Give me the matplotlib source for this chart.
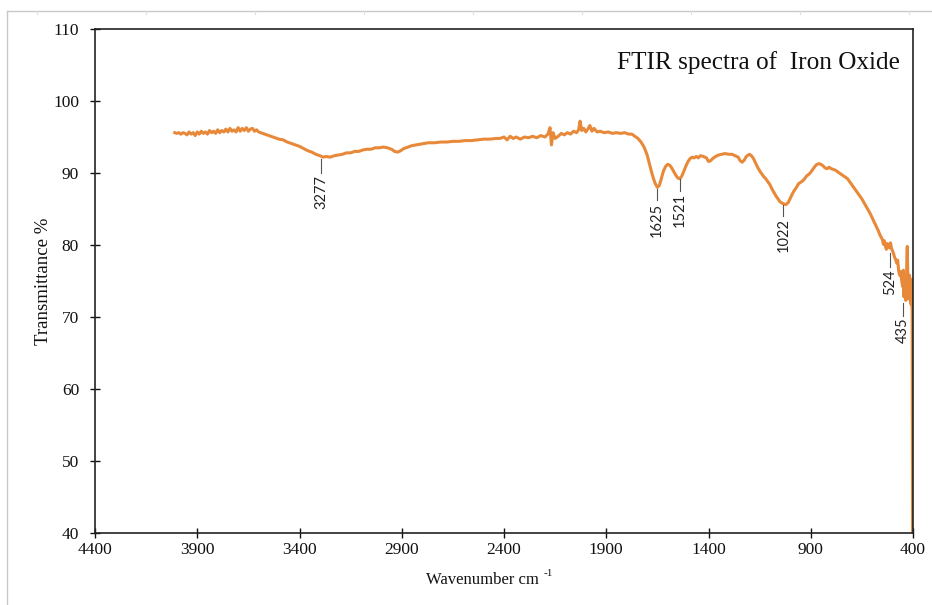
import matplotlib
matplotlib.use("Agg")
import matplotlib.pyplot as plt
from matplotlib.lines import Line2D

plt.rcParams['font.family'] = ['Liberation Serif', 'DejaVu Serif']

# ---- data ----
wavenumber = [
    # 4010-3600
    4010, 4000, 3990, 3980, 3970, 3960, 3950, 3940, 3930, 3920, 3910, 3900, 3890, 3880,
    3870, 3860, 3850, 3840, 3830, 3820, 3810, 3800, 3790, 3780, 3770, 3760, 3750, 3740,
    3730, 3720, 3710, 3700, 3690, 3680, 3670, 3660, 3650, 3640, 3630, 3620, 3610, 3600,
    # 3580-2400
    3580, 3560, 3540, 3520, 3500, 3480, 3460, 3440, 3420, 3400, 3380, 3360, 3340, 3320,
    3300, 3285, 3270, 3250, 3230, 3210, 3190, 3170, 3150, 3130, 3110, 3090, 3070, 3050,
    3030, 3010, 2990, 2970, 2950, 2935, 2920, 2905, 2890, 2870, 2850, 2830, 2810, 2790,
    2770, 2740, 2710, 2680, 2650, 2620, 2590, 2560, 2530, 2500, 2470, 2440, 2420, 2400,
    # 2385-1775
    2385, 2370, 2355, 2340, 2320, 2300, 2280, 2260, 2240, 2220, 2200, 2185, 2175, 2168,
    2160, 2150, 2135, 2120, 2105, 2090, 2075, 2060, 2045, 2035, 2028, 2020, 2010, 2000,
    1990, 1980, 1970, 1960, 1945, 1930, 1910, 1890, 1870, 1850, 1830, 1810, 1790, 1775,
    # 1760-820
    1760, 1745, 1730, 1715, 1700, 1690, 1680, 1670, 1660, 1650, 1640, 1630, 1620, 1610,
    1600, 1590, 1580, 1570, 1560, 1550, 1540, 1530, 1520, 1510, 1500, 1490, 1480, 1470,
    1460, 1450, 1440, 1425, 1410, 1400, 1390, 1380, 1365, 1350, 1335, 1320, 1300, 1285,
    1270, 1255, 1245, 1235, 1225, 1215, 1200, 1190, 1180, 1170, 1160, 1150, 1140, 1130,
    1120, 1110, 1100, 1090, 1080, 1070, 1060, 1050, 1040, 1030, 1022, 1010, 1000, 990,
    980, 970, 960, 950, 940, 930, 920, 910, 900, 890, 880, 870, 860, 850,
    840, 830, 820,
    # 810-402
    810, 800, 790, 780, 770, 760, 750, 740, 730, 720, 710, 700, 690, 680,
    670, 660, 650, 640, 630, 620, 610, 600, 590, 580, 570, 560, 550, 545,
    540, 535, 530, 525, 520, 515, 510, 505, 500, 495, 490, 485, 480, 475,
    470, 465, 460, 455, 450, 447, 444, 441, 438, 435, 432, 430, 428, 426,
    423, 420, 417, 414, 411, 408, 406, 404, 403, 402,
]
transmittance = [
    # 4010-3600
    95.6, 95.5, 95.6, 95.4, 95.6, 95.5, 95.3, 95.7, 95.4, 95.6, 95.2, 95.7, 95.4, 95.8,
    95.5, 95.7, 95.4, 95.9, 95.6, 95.8, 95.5, 96.0, 95.6, 95.9, 95.7, 96.1, 95.7, 96.2,
    95.8, 96.0, 95.7, 96.3, 95.8, 96.2, 95.9, 96.3, 95.8, 96.1, 96.2, 95.8, 96.0, 95.7,
    # 3580-2400
    95.5, 95.3, 95.1, 94.9, 94.7, 94.6, 94.3, 94.1, 93.9, 93.7, 93.4, 93.1, 92.9, 92.6,
    92.4, 92.2, 92.3, 92.2, 92.4, 92.5, 92.6, 92.8, 92.8, 93.0, 93.0, 93.2, 93.3, 93.3,
    93.5, 93.5, 93.6, 93.5, 93.3, 93.0, 92.9, 93.1, 93.4, 93.6, 93.8, 93.9, 94.0, 94.1,
    94.2, 94.2, 94.3, 94.3, 94.4, 94.4, 94.5, 94.5, 94.6, 94.7, 94.7, 94.8, 94.8, 95.0,
    # 2385-1775
    94.6, 95.1, 94.8, 95.0, 94.7, 95.0, 94.9, 95.1, 94.9, 95.2, 95.0, 95.4, 96.3, 93.9,
    95.6, 94.8, 95.1, 95.5, 95.3, 95.6, 95.4, 95.8, 95.6, 96.0, 97.2, 95.9, 96.2, 95.7,
    96.1, 96.6, 95.8, 96.2, 95.7, 95.8, 95.6, 95.7, 95.5, 95.6, 95.5, 95.6, 95.4, 95.4,
    # 1760-820
    95.1, 94.8, 94.3, 93.6, 92.5, 91.4, 90.3, 89.3, 88.5, 88.0, 88.3, 89.3, 90.3, 90.9,
    91.2, 91.1, 90.7, 90.2, 89.7, 89.3, 89.2, 89.6, 90.3, 91.0, 91.6, 92.0, 92.2, 92.1,
    92.3, 92.1, 92.4, 92.3, 92.1, 91.6, 91.7, 92.0, 92.3, 92.5, 92.6, 92.7, 92.6, 92.6,
    92.4, 92.2, 91.7, 91.5, 91.8, 92.3, 92.6, 92.4, 92.0, 91.4, 90.8, 90.3, 89.9, 89.5,
    89.2, 88.8, 88.4, 87.8, 87.3, 86.8, 86.4, 86.0, 85.8, 85.7, 85.6, 85.9, 86.5, 87.1,
    87.6, 88.0, 88.5, 88.7, 88.9, 89.2, 89.6, 89.8, 90.1, 90.5, 90.9, 91.2, 91.3, 91.2,
    91.0, 90.7, 90.6,
    # 810-402
    90.8, 90.6, 90.5, 90.4, 90.2, 90.0, 89.8, 89.6, 89.4, 89.2, 88.8, 88.4, 88.0, 87.6,
    87.2, 86.8, 86.4, 85.9, 85.4, 84.9, 84.4, 83.8, 83.2, 82.6, 82.0, 81.3, 80.8, 80.1,
    80.6, 79.8, 79.4, 80.2, 79.9, 79.6, 80.3, 79.5, 79.2, 78.8, 78.3, 78.0, 77.5, 77.9,
    76.4, 75.8, 76.3, 75.0, 74.2, 76.5, 72.8, 75.4, 73.1, 72.3, 74.8, 78.0, 79.8, 76.5,
    74.0, 72.5, 75.8, 74.5, 71.8, 75.2, 72.0, 70.8, 50.0, 38.0,
]
assert len(wavenumber) == len(transmittance)

# peak annotations: label text, leader position, leader top/bottom (transmittance)
peak_labels = ["3277", "1625", "1521", "1022", "524", "435"]
peak_x = [3293, 1654, 1541, 1034, 512, 449]
peak_top = [92.0, 87.8, 89.2, 85.5, 78.9, 71.9]
peak_bot = [90.0, 86.2, 87.5, 84.0, 76.9, 70.2]

x_ticks = [4400, 3900, 3400, 2900, 2400, 1900, 1400, 900, 400]
y_ticks = [40, 50, 60, 70, 80, 90, 100, 110]

# ---- figure ----
fw, fh = 932, 605
fig = plt.figure(figsize=(9.32, 6.05), dpi=100)
ax = fig.add_axes([95 / fw, (fh - 533) / fh, (913 - 95) / fw, (533 - 29) / fh])

ax.plot(wavenumber, transmittance, color='#E8893A', lw=2.2, solid_joinstyle='round')

for lab, x, t, b in zip(peak_labels, peak_x, peak_top, peak_bot):
    ax.plot([x, x], [t, b], color='#555555', lw=0.8)
    ax.text(x, b - 0.3, lab, rotation=90, ha='center', va='top', fontsize=10.5,
            family=['Lato', 'DejaVu Sans'], color='#222222')

ax.set_xlim(4400, 400)
ax.set_ylim(40, 110)
ax.set_xticks(x_ticks)
ax.set_yticks(y_ticks)
ax.set_xticklabels([str(v) for v in x_ticks])
ax.set_yticklabels([str(v) for v in y_ticks])
ax.tick_params(direction='inout', length=7, width=1.0, labelsize=12.5, colors='#111111')
ax.tick_params(axis='y', pad=8)
ax.tick_params(axis='x', pad=3)
for s in ax.spines.values():
    s.set_linewidth(1.2)
    s.set_color('#222222')

# axis titles
fig.text(426 / fw, 1 - 580 / fh, 'Wavenumber cm', ha='left', va='center',
         fontsize=12, color='#111111')
fig.text(544 / fw, 1 - 573 / fh, '-1', ha='left', va='center',
         fontsize=8, color='#111111')
ax.set_ylabel('Transmittance %', fontsize=13.5, color='#111111')
ax.yaxis.set_label_coords(-0.053, 0.5)
ax.text((900 - 95) / 818, 0.934, 'FTIR spectra of  Iron Oxide', transform=ax.transAxes,
        ha='right', va='center', fontsize=18.2, color='#111111')

# light outer frame of the source image
fig.add_artist(Line2D([7 / fw, 1], [1 - 11 / fh, 1 - 11 / fh], transform=fig.transFigure,
                      color='#c8c8c8', lw=1.0))
fig.add_artist(Line2D([7 / fw, 7 / fw], [0, 1 - 11 / fh], transform=fig.transFigure,
                      color='#c8c8c8', lw=1.0))
for px in range(37, 932, 109):
    fig.add_artist(Line2D([px / fw, px / fw], [1 - 11 / fh, 1 - 14 / fh], transform=fig.transFigure,
                          color='#dddddd', lw=0.8))

fig.savefig('out.png', dpi=100)
